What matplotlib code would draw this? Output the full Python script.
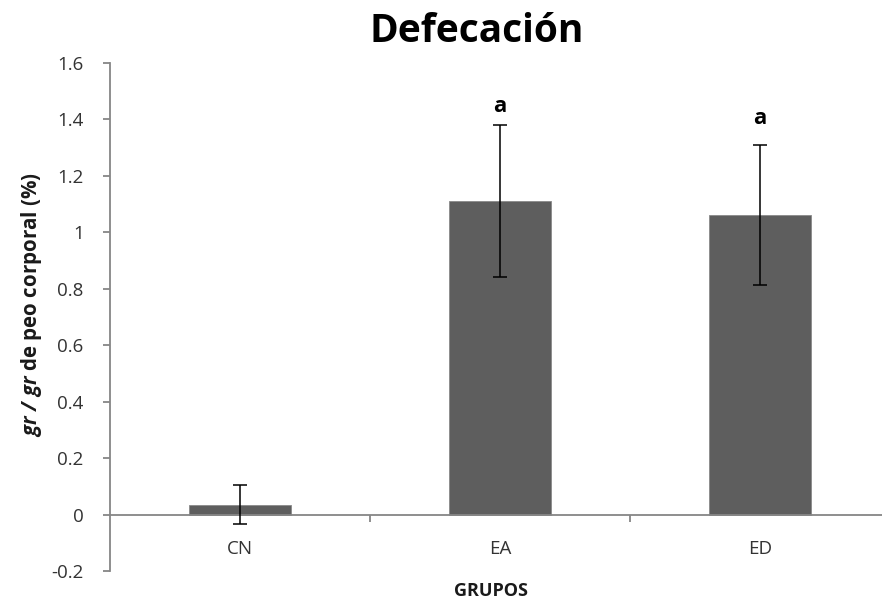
import matplotlib
matplotlib.use("Agg")
import matplotlib.pyplot as plt

plt.rcParams['font.family'] = ['Open Sans', 'DejaVu Sans']
plt.rcParams['mathtext.fontset'] = 'custom'
plt.rcParams['mathtext.bfit'] = 'Open Sans:bold:italic'
plt.rcParams['mathtext.it'] = 'Open Sans:italic'
plt.rcParams['mathtext.rm'] = 'Open Sans'

categories = ["CN", "EA", "ED"]
values = [0.035, 1.11, 1.06]
errors = [0.068, 0.27, 0.248]
letters = ["", "a", "a"]
letter_y = [None, 1.445, 1.405]
yticks = [-0.2, 0, 0.2, 0.4, 0.6, 0.8, 1, 1.2, 1.4, 1.6]
ytick_labels = ["-0.2", "0", "0.2", "0.4", "0.6", "0.8", "1", "1.2", "1.4", "1.6"]

W, H = 882, 602
fig = plt.figure(figsize=(W / 100, H / 100), dpi=100)
ax = fig.add_axes([110 / W, 1 - 571 / H, 780 / W, (571 - 63) / H])

axis_grey = '#868686'
x = list(range(len(categories)))
ax.bar(x, values, width=0.395, color='#5e5e5e', edgecolor='#8a8a8a', linewidth=0.6, zorder=2)
ax.errorbar(x, values, yerr=errors, fmt='none', ecolor='black', elinewidth=1.1,
            capsize=4.8, capthick=1.1, zorder=3)
for xi, lab, ly in zip(x, letters, letter_y):
    if lab:
        ax.text(xi, ly, lab, ha='center', va='center', fontsize=16, fontweight='bold')

ax.set_xlim(-0.5, 2.5)
ax.set_ylim(-0.2, 1.6)
ax.set_yticks(yticks)
ax.set_yticklabels(ytick_labels)
ax.set_xticks(x)
ax.set_xticklabels(categories)
ax.set_xticks([0.5, 1.5], minor=True)

for s in ['top', 'right']:
    ax.spines[s].set_visible(False)
ax.spines['left'].set_color(axis_grey)
ax.spines['bottom'].set_color(axis_grey)
ax.spines['left'].set_linewidth(1.3)
ax.spines['bottom'].set_linewidth(1.3)
ax.spines['bottom'].set_position(('data', 0))

ax.tick_params(axis='y', direction='out', length=5, width=1.3, color=axis_grey,
               labelsize=13.5, labelcolor='#333333', pad=14)
ax.tick_params(axis='x', which='major', length=0, labelsize=13.5, labelcolor='#333333', pad=18)
ax.tick_params(axis='x', which='minor', direction='out', length=5, width=1.3, color=axis_grey)

fig.text(477 / W, 1 - 32 / H, "Defecación", ha='center', va='center', fontsize=28, fontweight='bold')
fig.text(491 / W, 1 - 591 / H, "GRUPOS", ha='center', va='center', fontsize=13, fontweight='bold',
         color='#1a1a1a')
fig.text(32 / W, 1 - 305 / H, r"$\mathbfit{gr\ /\ gr}$ de peo corporal (%)", ha='center', va='center',
         rotation=90, fontsize=14.8, fontweight='bold', color='#1a1a1a')

fig.savefig("out.png", dpi=100)
